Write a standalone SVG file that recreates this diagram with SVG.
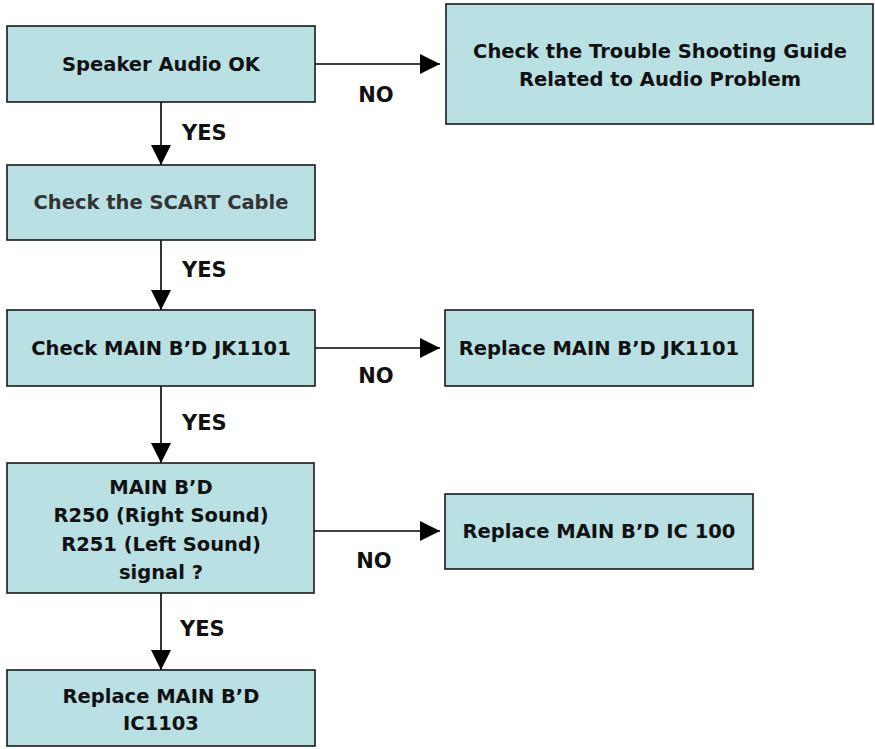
<svg xmlns="http://www.w3.org/2000/svg" width="875" height="749" viewBox="0 0 875 749">
<style>
.box{fill:#b9e0e3;stroke:#1a1a1a;stroke-width:1.6}
text{font-family:"DejaVu Sans",sans-serif;font-weight:bold;font-size:19.5px;fill:#111;text-anchor:middle;dominant-baseline:central}
.lbl{text-anchor:start;font-size:21px}
.no{font-size:21px}
.gray{fill:#333}
.ln{stroke:#000;stroke-width:1.6;fill:none}
</style>
<defs>
<marker id="ah" viewBox="0 0 20 20" refX="20" refY="10" markerWidth="20" markerHeight="20" markerUnits="userSpaceOnUse" orient="auto">
<path d="M0,0 L20,10 L0,20 Z" fill="#000"/>
</marker>
</defs>
<g id="connectors">
<line class="ln" x1="161" y1="102" x2="161" y2="165" marker-end="url(#ah)"/>
<line class="ln" x1="161" y1="240" x2="161" y2="310" marker-end="url(#ah)"/>
<line class="ln" x1="161" y1="386" x2="161" y2="463" marker-end="url(#ah)"/>
<line class="ln" x1="161" y1="593" x2="161" y2="670" marker-end="url(#ah)"/>
<line class="ln" x1="315" y1="64" x2="440" y2="64" marker-end="url(#ah)"/>
<line class="ln" x1="315" y1="348" x2="440" y2="348" marker-end="url(#ah)"/>
<line class="ln" x1="314" y1="531" x2="440" y2="531" marker-end="url(#ah)"/>
<text class="lbl" x="182" y="133">YES</text>
<text class="lbl" x="182" y="270">YES</text>
<text class="lbl" x="182" y="423">YES</text>
<text class="lbl" x="180" y="629">YES</text>
<text class="no" x="376" y="95">NO</text>
<text class="no" x="376" y="376">NO</text>
<text class="no" x="374" y="561">NO</text>
</g>
<g id="n1"><rect class="box" x="7" y="26" width="308" height="76"/><text x="161" y="64">Speaker Audio OK</text></g>
<g id="n2"><rect class="box" x="446" y="4" width="427" height="120"/><text x="660" y="51">Check the Trouble Shooting Guide</text><text x="660" y="79">Related to Audio Problem</text></g>
<g id="n3"><rect class="box" x="7" y="165" width="308" height="75"/><text class="gray" x="161" y="202">Check the SCART Cable</text></g>
<g id="n4"><rect class="box" x="7" y="310" width="308" height="76"/><text x="161" y="348">Check MAIN B’D JK1101</text></g>
<g id="n5"><rect class="box" x="445" y="310" width="308" height="76"/><text x="599" y="348">Replace MAIN B’D JK1101</text></g>
<g id="n6"><rect class="box" x="7" y="463" width="307" height="130"/><text x="161" y="487">MAIN B’D</text><text x="161" y="515">R250 (Right Sound)</text><text x="161" y="544">R251 (Left Sound)</text><text x="161" y="572">signal ?</text></g>
<g id="n7"><rect class="box" x="445" y="494" width="308" height="75"/><text x="599" y="531">Replace MAIN B’D IC 100</text></g>
<g id="n8"><rect class="box" x="7" y="670" width="308" height="76"/><text x="161" y="696">Replace MAIN B’D</text><text x="161" y="723">IC1103</text></g>
</svg>
